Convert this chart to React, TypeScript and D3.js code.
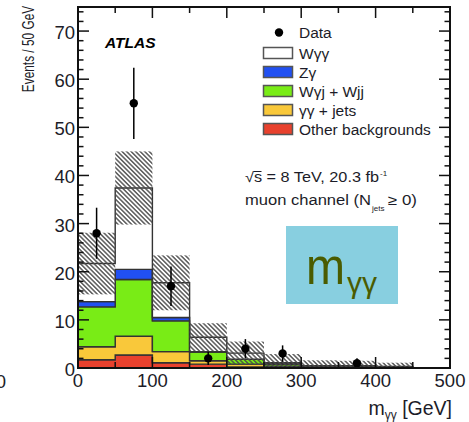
import React from 'react';
import * as d3 from 'd3';

// Histogram binning in m_γγ [GeV]
const binEdges = [0, 50, 100, 150, 200, 250, 300, 350, 400, 450];

// Stacked expectations per bin (events / 50 GeV), bottom to top
const otherBkg = [1.7, 2.7, 1.1, 0.8, 0.2, 0.15, 0.05, 0.05, 0.03];
const gammaGammaJets = [2.7, 3.9, 2.3, 0.7, 0.6, 0.25, 0.1, 0.05, 0.03];
const wGammaJetWjj = [8.3, 11.8, 6.4, 1.8, 1.0, 0.35, 0.15, 0.1, 0.05];
const zGamma = [1.1, 2.1, 0.7, 0.1, 0.05, 0.03, 0.02, 0.02, 0.01];
const wGammaGamma = [7.9, 16.9, 7.2, 3.0, 1.25, 0.32, 0.18, 0.28, 0.18];

// Total uncertainty on the expectation (hatched band)
const totalUnc = [6.4, 7.6, 5.7, 2.9, 2.4, 1.8, 1.1, 1.0, 0.8];

// Observed data
const dataX = [25, 75, 125, 175, 225, 275, 375];
const dataY = [28, 55, 17, 2, 4, 3, 1];
const dataErr = [5.3, 7.4, 4.1, 1.4, 2.0, 1.7, 1.0];

// Axis ticks
const xTickLabels = [0, 100, 200, 300, 400, 500];
const yTickLabels = [0, 10, 20, 30, 40, 50, 60, 70];

// Legend
const legendNames = ['Wγγ', 'Zγ', 'Wγj + Wjj', 'γγ + jets', 'Other backgrounds'];
const legendColors = ['#ffffff', '#2150f2', '#79ec16', '#f9c83a', '#e8412d'];

const FONT = '"Liberation Sans", Arial, Helvetica, sans-serif';
const INK = '#1c1c28';

export default function App() {
  const W = 469;
  const H = 422;
  const x = d3.scaleLinear().domain([0, 500]).range([78, 450]);
  const y = d3.scaleLinear().domain([0, 75]).range([368, 7]);

  const nb = binEdges.length;
  const table = binEdges.map((e, i) => {
    const j = Math.min(i, nb - 2);
    return {
      edge: e,
      other: otherBkg[j],
      gg: gammaGammaJets[j],
      wgj: wGammaJetWjj[j],
      zg: zGamma[j],
      wgg: wGammaGamma[j],
    };
  });
  const keys = ['other', 'gg', 'wgj', 'zg', 'wgg'];
  const layerColors: Record<string, string> = {
    other: legendColors[4],
    gg: legendColors[3],
    wgj: legendColors[2],
    zg: legendColors[1],
    wgg: legendColors[0],
  };
  const series = d3.stack<any>().keys(keys)(table);
  const area = d3
    .area<any>()
    .x((d) => x(d.data.edge))
    .y0((d) => y(d[0]))
    .y1((d) => y(d[1]))
    .curve(d3.curveStepAfter);

  const totals = otherBkg.map(
    (v, i) => v + gammaGammaJets[i] + wGammaJetWjj[i] + zGamma[i] + wGammaGamma[i]
  );

  const yMinor = d3.range(0, 75, 2);
  const xMinor = d3.range(0, 501, 50);

  return (
    <svg
      width={W}
      height={H}
      style={{ position: 'absolute', left: 0, top: 0, background: '#fff' }}
      fontFamily={FONT}
    >
      <defs>
        <pattern
          id="hatch"
          width={3.2}
          height={3.2}
          patternUnits="userSpaceOnUse"
          patternTransform="rotate(-45)"
        >
          <line x1={1.6} y1={0} x2={1.6} y2={3.2} stroke="#484848" strokeWidth={1.35} />
        </pattern>
      </defs>
      <rect x={0} y={0} width={W} height={H} fill="#fff" />

      {/* stacked expectation */}
      {series.map((s) => (
        <path
          key={s.key}
          d={area(s as any) || ''}
          fill={layerColors[s.key]}
          stroke="#333"
          strokeWidth={1.4}
        />
      ))}

      {/* uncertainty band */}
      {totals.map((t, i) => {
        const lo = Math.max(0, t - totalUnc[i]);
        const hi = t + totalUnc[i];
        return (
          <rect
            key={'u' + i}
            x={x(binEdges[i])}
            y={y(hi)}
            width={x(binEdges[i] + 50) - x(binEdges[i])}
            height={y(lo) - y(hi)}
            fill="url(#hatch)"
          />
        );
      })}

      {/* data */}
      {dataX.map((dx, i) => (
        <g key={'d' + i}>
          <line
            x1={x(dx)}
            x2={x(dx)}
            y1={y(Math.max(0, dataY[i] - dataErr[i]))}
            y2={y(dataY[i] + dataErr[i])}
            stroke="#000"
            strokeWidth={1.5}
          />
          <circle cx={x(dx)} cy={y(dataY[i])} r={4.2} fill="#000" />
        </g>
      ))}

      {/* frame */}
      <rect x={78} y={7} width={372} height={361} fill="none" stroke="#111" strokeWidth={2} />

      {/* y ticks (left & right) */}
      {yMinor.map((v) => {
        const major = v % 10 === 0;
        const len = major ? 11 : 5.5;
        return (
          <g key={'yt' + v}>
            <line x1={78} x2={78 + len} y1={y(v)} y2={y(v)} stroke="#111" strokeWidth={1.5} />
            <line x1={450} x2={450 - len} y1={y(v)} y2={y(v)} stroke="#111" strokeWidth={1.5} />
          </g>
        );
      })}
      {/* x ticks (bottom & top) */}
      {xMinor.map((v) => {
        const major = v % 100 === 0;
        const len = major ? 11 : 6;
        return (
          <g key={'xt' + v}>
            <line x1={x(v)} x2={x(v)} y1={368} y2={368 - len} stroke="#111" strokeWidth={1.5} />
            <line x1={x(v)} x2={x(v)} y1={7} y2={7 + len} stroke="#111" strokeWidth={1.5} />
          </g>
        );
      })}

      {/* tick labels */}
      {yTickLabels.map((v) => (
        <text key={'yl' + v} x={75} y={y(v) + 8} fontSize={18.5} textAnchor="end" fill={INK}>
          {v}
        </text>
      ))}
      {xTickLabels.map((v) => (
        <text key={'xl' + v} x={x(v)} y={387} fontSize={18.5} textAnchor="middle" fill={INK}>
          {v}
        </text>
      ))}
      <text x={1} y={388} fontSize={18.5} textAnchor="middle" fill={INK}>
        0
      </text>

      {/* axis titles */}
      <g transform="translate(34,49) rotate(-90) scale(0.72,1)">
        <text x={0} y={0} fontSize={16.5} textAnchor="middle" fill={INK}>
          Events / 50 GeV
        </text>
      </g>
      <text x={452} y={415} fontSize={19.5} textAnchor="end" fill={INK}>
        m
        <tspan fontSize={12} dy={4}>
          γγ
        </tspan>
        <tspan dy={-4}> [GeV]</tspan>
      </text>

      {/* ATLAS label */}
      <text x={105} y={48} fontSize={15.5} fontWeight="bold" fontStyle="italic" fill="#000">
        ATLAS
      </text>

      {/* legend */}
      <circle cx={279} cy={32.5} r={4.2} fill="#000" />
      <text x={299} y={38} fontSize={15.5} fill={INK}>
        Data
      </text>
      {legendNames.map((name, i) => {
        const cy = 53 + i * 19;
        return (
          <g key={'lg' + i}>
            <rect
              x={263.5}
              y={cy - 5.5}
              width={29}
              height={11}
              fill={legendColors[i]}
              stroke="#555"
              strokeWidth={1.5}
            />
            <text x={299} y={cy + 5.5} fontSize={15.5} fill={INK}>
              {name}
            </text>
          </g>
        );
      })}

      {/* run conditions */}
      <text x={245} y={182} fontSize={14} fill={INK} textLength={134} lengthAdjust="spacingAndGlyphs">
        √s = 8 TeV, 20.3 fb
      </text>
      <line x1={253.5} x2={261.5} y1={171.5} y2={171.5} stroke={INK} strokeWidth={1} />
      <text x={380} y={176} fontSize={8} fill={INK}>
        -1
      </text>
      <text x={245} y={205} fontSize={14} fill={INK} textLength={126} lengthAdjust="spacingAndGlyphs">
        muon channel (N
      </text>
      <text x={372} y={211} fontSize={8} fill={INK}>
        jets
      </text>
      <text x={388} y={205} fontSize={14} fill={INK} textLength={29} lengthAdjust="spacingAndGlyphs">
        ≥ 0)
      </text>

      {/* variable tag */}
      <rect x={286} y={226} width={112} height={78} fill="#88cfe0" />
      <text x={306} y={284} fontSize={52} fill="#4a5c00" textLength={39} lengthAdjust="spacingAndGlyphs">
        m
      </text>
      <text x={347} y={293} fontSize={30} fill="#4a5c00">
        γγ
      </text>
    </svg>
  );
}
